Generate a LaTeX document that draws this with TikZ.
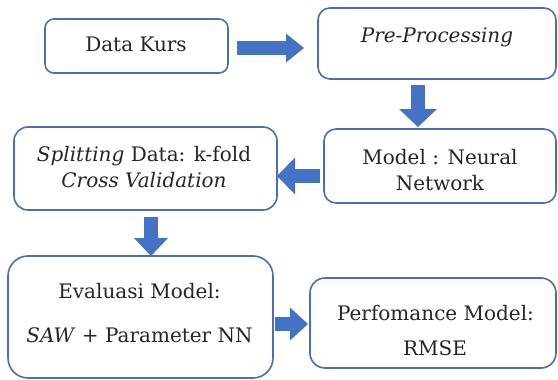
\documentclass[tikz,border=0pt]{standalone}
\usepackage{fontspec}
\setmainfont{DejaVu Serif}
\usetikzlibrary{arrows.meta,calc}
\definecolor{boxblue}{HTML}{4A6FB5}
\definecolor{arrowblue}{HTML}{4472C4}
\begin{document}
\begin{tikzpicture}[x=1pt,y=-1pt,
  box/.style={draw=boxblue, line width=1.6pt, fill=white, rectangle, inner sep=0pt, outer sep=0pt},
  txt/.style={anchor=base, inner sep=0pt, font=\fontsize{20}{26}\selectfont, text=black!85},
  barrow/.style={draw=arrowblue, line width=14.5pt, -{Triangle[length=18pt,width=#1,line width=0pt,fill=arrowblue]}},
  barrow/.default=34pt]
\path[use as bounding box] (0,0) rectangle (558,380);
% boxes
\node[box, minimum width=183pt, minimum height=54pt, rounded corners=9pt] (dk) at (136.5,46) {};
\node[box, minimum width=238pt, minimum height=71pt, rounded corners=12pt] (pp) at (437,43.5) {};
\node[box, minimum width=232pt, minimum height=74pt, rounded corners=12pt] (mn) at (440,166) {};
\node[box, minimum width=263pt, minimum height=83pt, rounded corners=14pt] (sp) at (145.5,168.5) {};
\node[box, minimum width=265pt, minimum height=122pt, rounded corners=20pt] (ev) at (140.5,317) {};
\node[box, minimum width=246pt, minimum height=90pt, rounded corners=15pt] (pm) at (433,323) {};
% texts
\node[txt] (t1) at (136,52) {Data Kurs};
\node[txt] (t2) at (437,42) {\textit{Pre-Processing}};
\node[txt] (t3) at (440,164.5) {Model : Neural};
\node[txt] (t4) at (440,190) {Network};
\node[txt] (t5) at (144,161) {\textit{Splitting} Data: k-fold};
\node[txt] (t6) at (144,187) {\textit{Cross Validation}};
\node[txt] (t7) at (139.5,298.5) {Evaluasi Model:};
\node[txt] (t8) at (139.5,342) {\textit{SAW} + Parameter NN};
\node[txt] (t9) at (435.5,320) {Perfomance Model:};
\node[txt] (t10) at (435,355) {RMSE};
% arrows
\coordinate (a1s) at ($(dk.east)+(9,2)$);
\draw[barrow=29pt, shorten >=14pt] (a1s) -- (a1s -| pp.west);
\coordinate (a2s) at ($(pp.south)+(-19,6)$);
\draw[barrow=38pt, shorten >=2pt] (a2s) -- (a2s |- mn.north);
\coordinate (a3s) at ($(mn.west)+(-4,10)$);
\draw[barrow=37pt] (a3s) -- (a3s -| sp.east);
\coordinate (a4s) at ($(sp.south)+(5.5,7)$);
\draw[barrow=34pt] (a4s) -- (a4s |- ev.north);
\coordinate (a5s) at ($(ev.east)+(2,7)$);
\draw[barrow=33pt, shorten >=2pt] (a5s) -- (a5s -| pm.west);
\end{tikzpicture}
\end{document}
